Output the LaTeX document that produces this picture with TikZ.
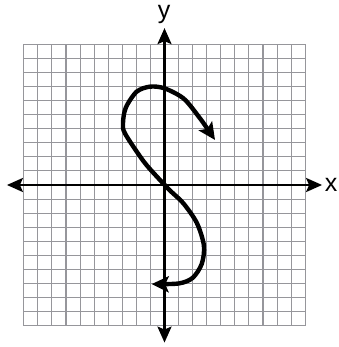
\documentclass[tikz,border=0pt]{standalone}
\usepackage{fontspec}
\setmainfont{Liberation Sans}
\usetikzlibrary{arrows.meta}
\definecolor{gridgray}{RGB}{150,150,155}
\tikzset{
  gridline/.style={draw=gridgray,line width=1.1pt},
  axis/.style={draw=black,line width=2.4pt,{Stealth[length=16pt,width=14pt,inset=3pt]}-{Stealth[length=16pt,width=14pt,inset=3pt]}},
  curve/.style={draw=black,line width=4.4pt,{Stealth[length=17pt,width=16pt,inset=3.5pt]}-{Stealth[length=17pt,width=16pt,inset=3.5pt]}},
  axislabel/.style={font=\fontsize{25}{25}\selectfont,inner sep=0pt,anchor=base}
}
\begin{document}
\begin{tikzpicture}[x=14.07pt,y=14.07pt]
\useasboundingbox (-164.5pt,-162pt) rectangle (173.5pt,185pt);
% grid
\draw[gridline] (-10,-10) grid[step=1] (10,10);
\draw[gridline] (-10,-10) rectangle (10,10);
% axes
\coordinate (xl) at (-11.2,0);
\coordinate (xr) at (11.2,0);
\coordinate (yb) at (0,-11.2);
\coordinate (yt) at (0,11.15);
\draw[axis] (xl) -- (xr);
\draw[axis] (yb) -- (yt);
\node[axislabel] (xlab) at (11.85,-0.45) {x};
\node[axislabel] (ylab) at (-0.03,11.8) {y};
% curve
\draw[curve] plot[smooth,tension=0.5] coordinates {(3.59,3.2) (2.4,4.9) (1.34,6.16) (0,6.87) (-1.03,6.99) (-1.98,6.63) (-2.75,5.5) (-2.95,4.4) (-2.8,3.65) (-1.5,1.7) (-0.5,0.55) (0.4,-0.4) (1.34,-1.3) (2.3,-2.7) (2.8,-4.3) (2.65,-5.6) (2.0,-6.6) (1.0,-7.0) (-0.91,-7.04)};
\end{tikzpicture}
\end{document}
